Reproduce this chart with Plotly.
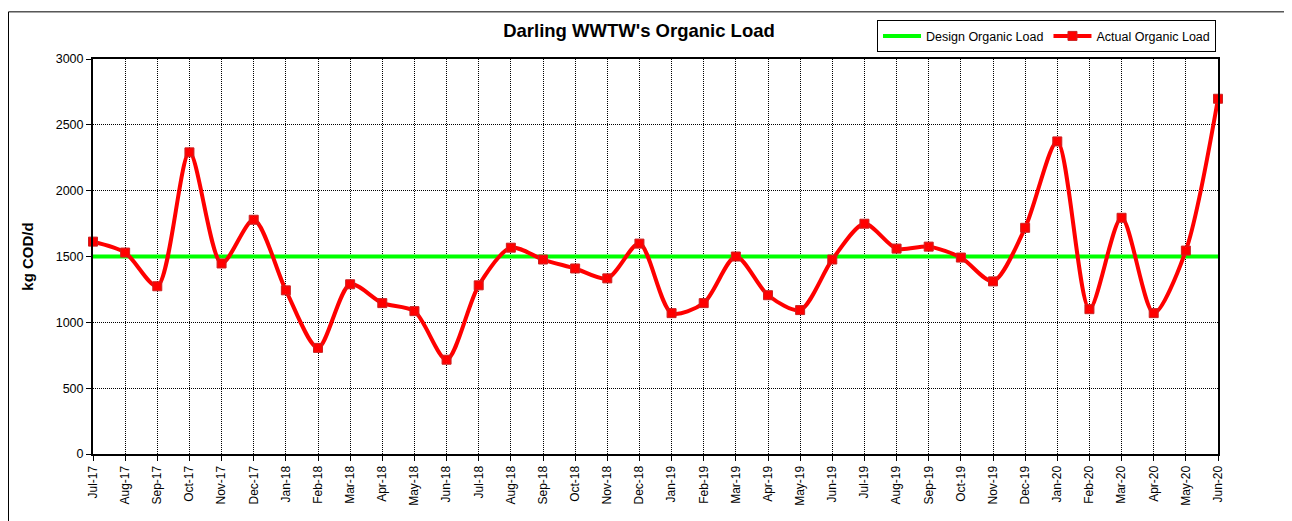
import plotly.graph_objects as go

months = ["Jul-17","Aug-17","Sep-17","Oct-17","Nov-17","Dec-17","Jan-18","Feb-18","Mar-18","Apr-18",
          "May-18","Jun-18","Jul-18","Aug-18","Sep-18","Oct-18","Nov-18","Dec-18","Jan-19","Feb-19",
          "Mar-19","Apr-19","May-19","Jun-19","Jul-19","Aug-19","Sep-19","Oct-19","Nov-19","Dec-19",
          "Jan-20","Feb-20","Mar-20","Apr-20","May-20","Jun-20"]
actual_load = [1613, 1530, 1274, 2291, 1447, 1779, 1243, 806, 1289, 1146,
               1085, 716, 1281, 1567, 1477, 1409, 1334, 1598, 1070, 1146,
               1500, 1206, 1093, 1477, 1749, 1560, 1575, 1492, 1311, 1718,
               2374, 1100, 1794, 1070, 1545, 2698]
design_load_value = 1500
design_load = [design_load_value for _ in months]
y_ticks = [0, 500, 1000, 1500, 2000, 2500, 3000]

FONT = "Arial, Liberation Sans, sans-serif"
W, H = 1284, 513
L, T, PW, PH = 85, 48, 1125, 398

fig = go.Figure()
fig.add_trace(go.Scatter(
    x=months, y=design_load, mode="lines", name="Design Organic Load",
    line=dict(color="#00ff00", width=4), cliponaxis=False))
fig.add_trace(go.Scatter(
    x=months, y=actual_load, mode="lines+markers", name="Actual Organic Load",
    line=dict(color="#ff0000", width=4, shape="spline", smoothing=0.8),
    marker=dict(symbol="square", size=9, color="#ff0000", line=dict(color="#cc2222", width=1)),
    cliponaxis=False))

fig.update_layout(
    width=W, height=H,
    margin=dict(l=L, r=W - L - PW, t=T, b=H - T - PH),
    paper_bgcolor="white", plot_bgcolor="white",
    font=dict(family=FONT, size=12, color="black"),
    title=dict(text="<b>Darling WWTW's Organic Load</b>", x=(631 - L) / PW, xref="paper",
               xanchor="center", y=(H - 23) / H, yanchor="middle",
               font=dict(family=FONT, size=18.5, color="black")),
    legend=dict(orientation="h", x=(1208 - L) / PW, xanchor="right", y=(PH + T - 9) / PH, yanchor="top",
                bordercolor="black", borderwidth=1, bgcolor="white",
                font=dict(family=FONT, size=12.5), itemwidth=38,
                tracegroupgap=0),
    showlegend=True,
)
fig.update_xaxes(
    type="category", range=[0, len(months) - 1], tickangle=-90,
    showgrid=True, gridcolor="black", griddash="1px,1px", gridwidth=1,
    ticks="outside", ticklen=5, tickcolor="black",
    showline=True, linecolor="black", linewidth=2, mirror=True,
    tickfont=dict(family=FONT, size=12), zeroline=False)
fig.update_yaxes(
    range=[0, 3000], tickvals=y_ticks,
    showgrid=True, gridcolor="black", griddash="1px,1px", gridwidth=1,
    ticks="outside", ticklen=5, tickcolor="black",
    showline=True, linecolor="black", linewidth=2, mirror=True,
    tickfont=dict(family=FONT, size=12.5), zeroline=False,
    title=dict(text="<b>kg COD/d</b>", font=dict(family=FONT, size=15), standoff=18))

# outer chart frame
fig.add_shape(type="rect", xref="paper", yref="paper",
              x0=(0.5 - L) / PW, x1=(1300 - L) / PW, y0=(T + PH - 530) / PH, y1=(T + PH - 0.5) / PH,
              line=dict(color="black", width=1), fillcolor="rgba(0,0,0,0)", layer="below")

fig.write_html("out.html")
